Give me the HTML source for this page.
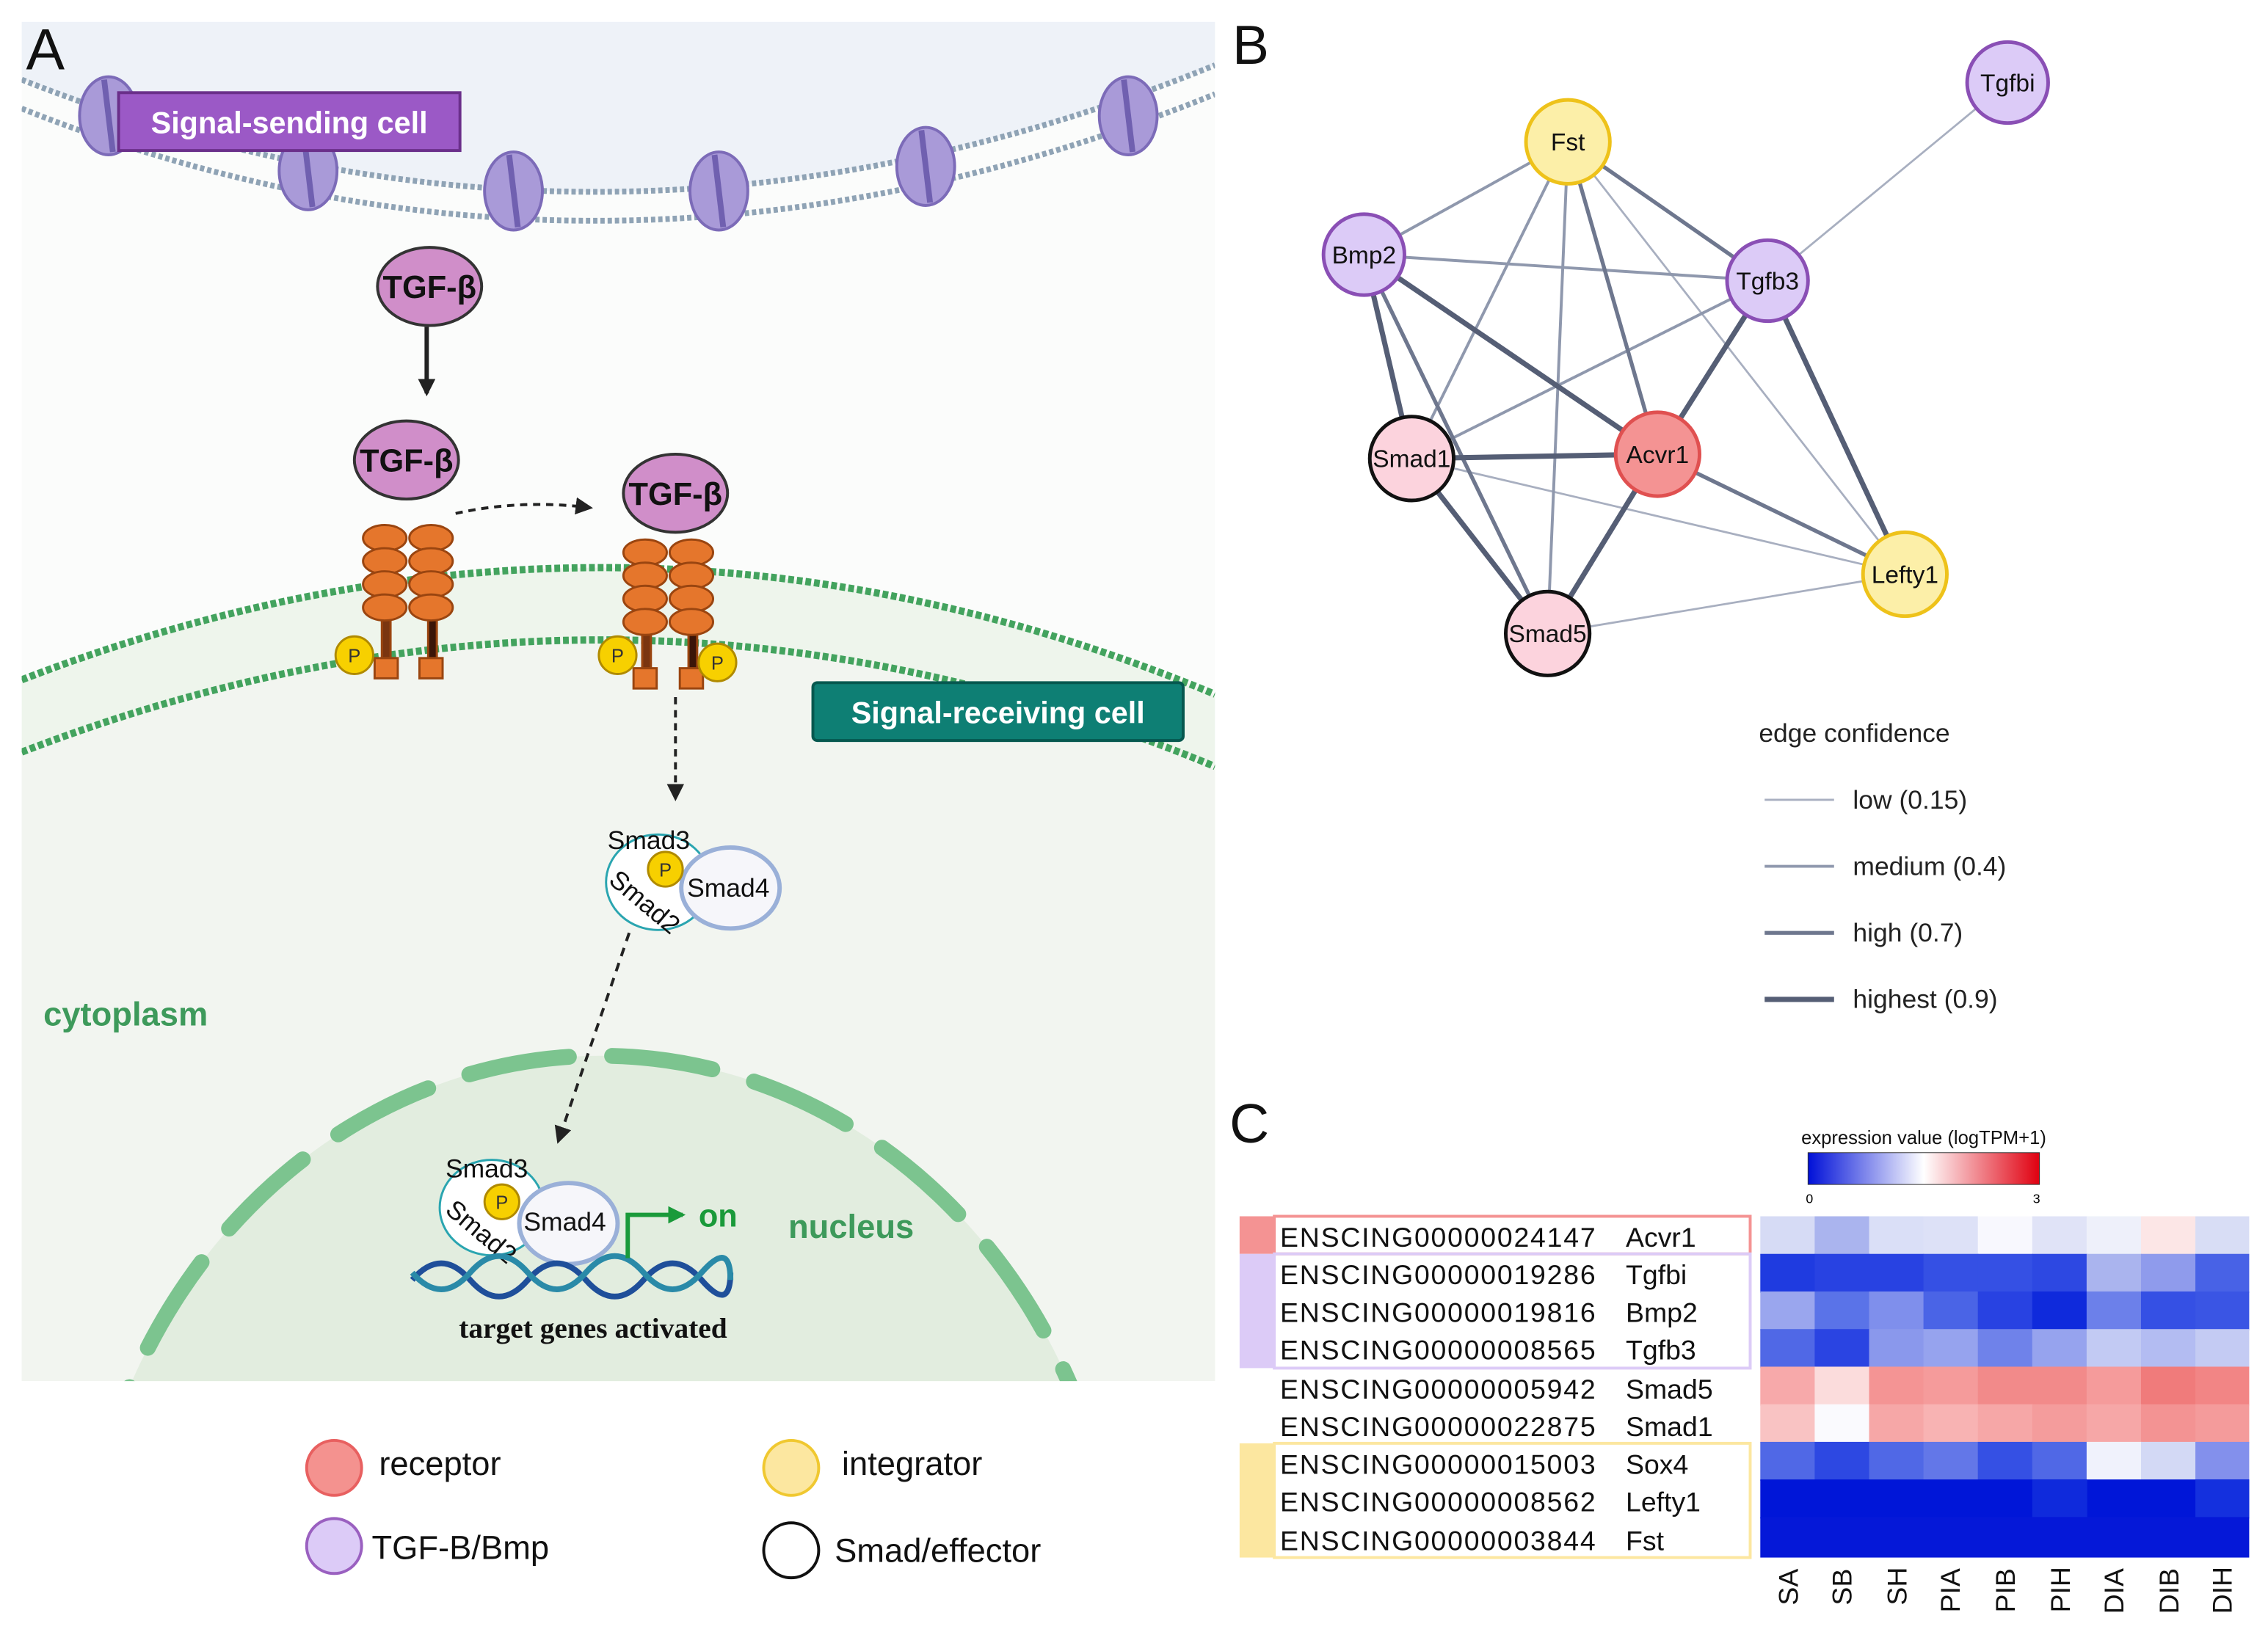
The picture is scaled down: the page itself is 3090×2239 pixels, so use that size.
<!DOCTYPE html>
<html><head><meta charset="utf-8"><style>html,body{margin:0;padding:0;background:#fff;width:3090px;height:2239px;overflow:hidden}svg{display:block}</style></head>
<body>
<svg width="3090" height="2239" viewBox="0 0 1568 1136" xmlns="http://www.w3.org/2000/svg" font-family="Liberation Sans, sans-serif">
<defs>
<linearGradient id="cb" x1="0" x2="1"><stop offset="0" stop-color="#0010d8"/><stop offset="0.5" stop-color="#ffffff"/><stop offset="1" stop-color="#e00010"/></linearGradient>
<clipPath id="pa"><rect x="15" y="15" width="825" height="940"/></clipPath>
<marker id="ah" markerUnits="userSpaceOnUse" markerWidth="14" markerHeight="14" refX="10" refY="6" orient="auto"><path d="M0,0 L12,6 L0,12 z" fill="#222"/></marker>
<marker id="ag" markerUnits="userSpaceOnUse" markerWidth="14" markerHeight="14" refX="10" refY="6" orient="auto"><path d="M0,0 L12,6 L0,12 z" fill="#1a9a3a"/></marker>
</defs>
<rect width="1568" height="1136" fill="#fff"/>
<!-- Panel A -->
<g clip-path="url(#pa)">
<rect x="15" y="15" width="825" height="940" fill="#fbfcfb"/>
<path d="M15,15 H840 V45 Q420,215 15,55 Z" fill="#eef2f8"/>
<path d="M15,470 Q430,310 840,480 V955 H15 Z" fill="#eef5ec"/>
<path d="M15,520 Q430,360 840,530 V955 H15 Z" fill="#f2f5f0"/>
<path d="M15,55 Q420,215 840,45" fill="none" stroke="#8fa3b5" stroke-width="4" stroke-dasharray="3 2"/>
<path d="M15,75 Q420,235 840,65" fill="none" stroke="#8fa3b5" stroke-width="4" stroke-dasharray="3 2"/>
<path d="M15,470 Q430,310 840,480" fill="none" stroke="#43a35e" stroke-width="5" stroke-dasharray="4 2"/>
<path d="M15,520 Q430,360 840,530" fill="none" stroke="#43a35e" stroke-width="5" stroke-dasharray="4 2"/>
<g fill="#a99ad8" stroke="#7c6bb8" stroke-width="2">
<ellipse cx="75" cy="80" rx="20" ry="27"/><ellipse cx="213" cy="118" rx="20" ry="27"/><ellipse cx="355" cy="132" rx="20" ry="27"/><ellipse cx="497" cy="132" rx="20" ry="27"/><ellipse cx="640" cy="115" rx="20" ry="27"/><ellipse cx="780" cy="80" rx="20" ry="27"/>
</g>
<g stroke="#7060b0" stroke-width="4">
<line x1="72" y1="55" x2="78" y2="105"/><line x1="210" y1="93" x2="216" y2="143"/><line x1="352" y1="107" x2="358" y2="157"/><line x1="494" y1="107" x2="500" y2="157"/><line x1="637" y1="90" x2="643" y2="140"/><line x1="777" y1="55" x2="783" y2="105"/>
</g>
<ellipse cx="415" cy="1130" rx="360" ry="400" fill="#e2eddf"/>
<ellipse cx="415" cy="1130" rx="360" ry="400" fill="none" stroke="#7cc48f" stroke-width="11" stroke-dasharray="70 30" stroke-linecap="round"/>
</g>
<rect x="82" y="64" width="236" height="40" fill="#9b59c6" stroke="#6a2f8a" stroke-width="2"/>
<text x="200" y="92" text-anchor="middle" font-size="21" font-weight="bold" fill="#fff">Signal-sending cell</text>
<rect x="562" y="472" width="256" height="40" rx="3" fill="#0e7f74" stroke="#06584f" stroke-width="2"/>
<text x="690" y="500" text-anchor="middle" font-size="21" font-weight="bold" fill="#fff">Signal-receiving cell</text>
<text x="18" y="48" font-size="40" fill="#111">A</text>
<g fill="#d08ec9" stroke="#333" stroke-width="2">
<ellipse cx="297" cy="198" rx="36" ry="27"/><ellipse cx="281" cy="318" rx="36" ry="27"/><ellipse cx="467" cy="341" rx="36" ry="27"/>
</g>
<g font-size="22" font-weight="bold" text-anchor="middle" fill="#111">
<text x="297" y="206">TGF-β</text><text x="281" y="326">TGF-β</text><text x="467" y="349">TGF-β</text>
</g>
<line x1="295" y1="226" x2="295" y2="272" stroke="#222" stroke-width="3" marker-end="url(#ah)"/>
<path d="M315,355 Q360,345 408,351" fill="none" stroke="#222" stroke-width="2" stroke-dasharray="5 4" marker-end="url(#ah)"/>
<!-- receptors -->
<g fill="#e5762c" stroke="#9a4510" stroke-width="1.5">
<rect x="264" y="420" width="6" height="40" fill="#7a3510"/><rect x="296" y="420" width="6" height="40" fill="#3a1508"/>
<rect x="444" y="430" width="6" height="35" fill="#7a3510"/><rect x="476" y="430" width="6" height="35" fill="#3a1508"/>
<ellipse cx="266" cy="372" rx="15" ry="9"/><ellipse cx="266" cy="388" rx="15" ry="9"/><ellipse cx="266" cy="404" rx="15" ry="9"/><ellipse cx="266" cy="420" rx="15" ry="9"/>
<ellipse cx="298" cy="372" rx="15" ry="9"/><ellipse cx="298" cy="388" rx="15" ry="9"/><ellipse cx="298" cy="404" rx="15" ry="9"/><ellipse cx="298" cy="420" rx="15" ry="9"/>
<ellipse cx="446" cy="382" rx="15" ry="9"/><ellipse cx="446" cy="398" rx="15" ry="9"/><ellipse cx="446" cy="414" rx="15" ry="9"/><ellipse cx="446" cy="430" rx="15" ry="9"/>
<ellipse cx="478" cy="382" rx="15" ry="9"/><ellipse cx="478" cy="398" rx="15" ry="9"/><ellipse cx="478" cy="414" rx="15" ry="9"/><ellipse cx="478" cy="430" rx="15" ry="9"/>
<rect x="259" y="455" width="16" height="14"/><rect x="290" y="455" width="16" height="14"/>
<rect x="438" y="462" width="16" height="14"/><rect x="470" y="462" width="16" height="14"/>
</g>
<g fill="#f7d000" stroke="#b08a00" stroke-width="1.5">
<circle cx="245" cy="453" r="13"/><circle cx="427" cy="453" r="13"/><circle cx="496" cy="458" r="13"/>
</g>
<g font-size="13" text-anchor="middle" fill="#333"><text x="245" y="458">P</text><text x="427" y="458">P</text><text x="496" y="463">P</text></g>
<line x1="467" y1="482" x2="467" y2="552" stroke="#222" stroke-width="2" stroke-dasharray="5 4" marker-end="url(#ah)"/>
<line x1="435" y1="645" x2="386" y2="789" stroke="#222" stroke-width="2" stroke-dasharray="6 5" marker-end="url(#ah)"/>
<!-- smad complexes -->
<g fill="#fff" stroke="#2aa5b0" stroke-width="1.5">
<ellipse cx="455" cy="610" rx="36" ry="33"/><ellipse cx="340" cy="835" rx="36" ry="33"/>
</g>
<g fill="#f6f6fa" stroke="#9ab0d8" stroke-width="3">
<ellipse cx="505" cy="614" rx="34" ry="28"/><ellipse cx="393" cy="846" rx="34" ry="28"/>
</g>
<g fill="#f7d000" stroke="#b08a00" stroke-width="1.5"><circle cx="460" cy="601" r="12"/><circle cx="347" cy="831" r="12"/></g>
<g font-size="13" text-anchor="middle" fill="#333"><text x="460" y="606">P</text><text x="347" y="836">P</text></g>
<g font-size="18" fill="#111">
<text x="420" y="587">Smad3</text><text x="475" y="620">Smad4</text>
<text x="308" y="814">Smad3</text><text x="362" y="851">Smad4</text>
<text x="420" y="610" transform="rotate(40 420 610)">Smad2</text>
<text x="307" y="838" transform="rotate(40 307 838)">Smad2</text>
</g>
<path d="M285,885 Q305,862 325,885 T365,885 T405,885 T445,885 T485,885 T505,880" fill="none" stroke="#1f4f9a" stroke-width="4"/>
<path d="M285,880 Q305,903 325,880 T365,880 T405,880 T445,880 T485,880 T505,885" fill="none" stroke="#2a8aa8" stroke-width="4"/>
<path d="M434,870 V840 H472" fill="none" stroke="#1a9a3a" stroke-width="3" marker-end="url(#ag)"/>
<text x="483" y="848" font-size="22" font-weight="bold" fill="#1a9a3a">on</text>
<text x="410" y="925" text-anchor="middle" font-family="Liberation Serif, serif" font-size="20" font-weight="bold" fill="#111">target genes activated</text>
<text x="30" y="709" font-size="23" font-weight="bold" fill="#3e9a5b">cytoplasm</text>
<text x="545" y="856" font-size="23" font-weight="bold" fill="#3e9a5b">nucleus</text>
<!-- legend A -->
<circle cx="231" cy="1015" r="19" fill="#f4928f" stroke="#e86060" stroke-width="2"/>
<circle cx="547" cy="1015" r="19" fill="#fce7a0" stroke="#f0c830" stroke-width="2"/>
<circle cx="231" cy="1069" r="19" fill="#dccbf7" stroke="#9a60c0" stroke-width="2"/>
<circle cx="547" cy="1072" r="19" fill="#fff" stroke="#111" stroke-width="2"/>
<g font-size="23" fill="#111"><text x="262" y="1020">receptor</text><text x="582" y="1020">integrator</text><text x="257" y="1078">TGF-B/Bmp</text><text x="577" y="1080">Smad/effector</text></g>
<!-- Panel B -->
<text x="852" y="44" font-size="38" fill="#111">B</text>
<g stroke-linecap="round">
<g stroke="#a8afc0" stroke-width="1.4">
<line x1="1388" y1="57" x2="1222" y2="194"/><line x1="1084" y1="98" x2="1317" y2="397"/><line x1="1070" y1="438" x2="1317" y2="397"/><line x1="976" y1="317" x2="1317" y2="397"/>
</g>
<g stroke="#8f98ad" stroke-width="2">
<line x1="1084" y1="98" x2="943" y2="176"/><line x1="1084" y1="98" x2="976" y2="317"/><line x1="1084" y1="98" x2="1070" y2="438"/><line x1="943" y1="176" x2="1222" y2="194"/><line x1="1222" y1="194" x2="976" y2="317"/>
</g>
<g stroke="#6e778e" stroke-width="2.7">
<line x1="1084" y1="98" x2="1146" y2="314"/><line x1="1084" y1="98" x2="1222" y2="194"/><line x1="943" y1="176" x2="1070" y2="438"/><line x1="1146" y1="314" x2="1317" y2="397"/>
</g>
<g stroke="#555e75" stroke-width="3.6">
<line x1="943" y1="176" x2="1146" y2="314"/><line x1="943" y1="176" x2="976" y2="317"/><line x1="1222" y1="194" x2="1146" y2="314"/><line x1="1222" y1="194" x2="1317" y2="397"/><line x1="976" y1="317" x2="1146" y2="314"/><line x1="976" y1="317" x2="1070" y2="438"/><line x1="1146" y1="314" x2="1070" y2="438"/>
</g>
</g>
<g stroke-width="2.5">
<circle cx="1388" cy="57" r="28" fill="#dccbf7" stroke="#8a4fb5"/>
<circle cx="1084" cy="98" r="29" fill="#fcefa8" stroke="#eec21a"/>
<circle cx="943" cy="176" r="28" fill="#dccbf7" stroke="#8a4fb5"/>
<circle cx="1222" cy="194" r="28" fill="#dccbf7" stroke="#8a4fb5"/>
<circle cx="976" cy="317" r="29" fill="#fcd3dd" stroke="#111"/>
<circle cx="1146" cy="314" r="29" fill="#f49393" stroke="#e05050"/>
<circle cx="1317" cy="397" r="29" fill="#fcefa8" stroke="#eec21a"/>
<circle cx="1070" cy="438" r="29" fill="#fcd3dd" stroke="#111"/>
</g>
<g font-size="17" text-anchor="middle" fill="#111">
<text x="1388" y="63">Tgfbi</text><text x="1084" y="104">Fst</text><text x="943" y="182">Bmp2</text><text x="1222" y="200">Tgfb3</text><text x="976" y="323">Smad1</text><text x="1146" y="320">Acvr1</text><text x="1317" y="403">Lefty1</text><text x="1070" y="444">Smad5</text>
</g>
<text x="1216" y="513" font-size="18" fill="#222">edge confidence</text>
<line x1="1220" y1="553" x2="1268" y2="553" stroke="#a8afc0" stroke-width="1.4"/>
<line x1="1220" y1="599" x2="1268" y2="599" stroke="#8f98ad" stroke-width="2"/>
<line x1="1220" y1="645" x2="1268" y2="645" stroke="#6e778e" stroke-width="2.7"/>
<line x1="1220" y1="691" x2="1268" y2="691" stroke="#555e75" stroke-width="3.6"/>
<g font-size="18" fill="#222"><text x="1281" y="559">low (0.15)</text><text x="1281" y="605">medium (0.4)</text><text x="1281" y="651">high (0.7)</text><text x="1281" y="697">highest (0.9)</text></g>
<!-- Panel C -->
<text x="850" y="790" font-size="38" fill="#111">C</text>
<text x="1330" y="791" font-size="13" text-anchor="middle" fill="#111">expression value (logTPM+1)</text>
<rect x="1250" y="797" width="160" height="22" fill="url(#cb)" stroke="#333" stroke-width="0.5"/>
<text x="1251" y="832" font-size="9" text-anchor="middle">0</text><text x="1408" y="832" font-size="9" text-anchor="middle">3</text>
<rect x="857" y="841" width="24" height="26" fill="#f49393"/>
<rect x="857" y="867" width="24" height="79" fill="#dccbf7"/>
<rect x="857" y="998" width="24" height="79" fill="#fce7a0"/>
<rect x="881" y="841" width="329" height="26" fill="none" stroke="#f49393" stroke-width="2"/>
<rect x="881" y="867" width="329" height="79" fill="none" stroke="#dccbf7" stroke-width="2"/>
<rect x="881" y="998" width="329" height="79" fill="none" stroke="#fce7a0" stroke-width="2"/>
<g font-size="19" fill="#111">
<text x="885" y="862" textLength="218">ENSCING00000024147</text><text x="1124" y="862">Acvr1</text>
<text x="885" y="888" textLength="218">ENSCING00000019286</text><text x="1124" y="888">Tgfbi</text>
<text x="885" y="914" textLength="218">ENSCING00000019816</text><text x="1124" y="914">Bmp2</text>
<text x="885" y="940" textLength="218">ENSCING00000008565</text><text x="1124" y="940">Tgfb3</text>
<text x="885" y="967" textLength="218">ENSCING00000005942</text><text x="1124" y="967">Smad5</text>
<text x="885" y="993" textLength="218">ENSCING00000022875</text><text x="1124" y="993">Smad1</text>
<text x="885" y="1019" textLength="218">ENSCING00000015003</text><text x="1124" y="1019">Sox4</text>
<text x="885" y="1045" textLength="218">ENSCING00000008562</text><text x="1124" y="1045">Lefty1</text>
<text x="885" y="1072" textLength="218">ENSCING00000003844</text><text x="1124" y="1072">Fst</text>
</g>
<g>
<rect x="1217" y="841" width="38" height="27" fill="#d6dbf5"/><rect x="1254.6" y="841" width="38" height="27" fill="#aab4ee"/><rect x="1292.2" y="841" width="38" height="27" fill="#dadff7"/><rect x="1329.8" y="841" width="38" height="27" fill="#dde1f7"/><rect x="1367.4" y="841" width="38" height="27" fill="#f8f8fe"/><rect x="1405" y="841" width="38" height="27" fill="#e0e3f7"/><rect x="1442.6" y="841" width="38" height="27" fill="#eef0fa"/><rect x="1480.2" y="841" width="38" height="27" fill="#fce6e6"/><rect x="1517.8" y="841" width="37.2" height="27" fill="#d8ddf5"/>
<rect x="1217" y="867" width="38" height="27" fill="#1f3be0"/><rect x="1254.6" y="867" width="38" height="27" fill="#2842e2"/><rect x="1292.2" y="867" width="38" height="27" fill="#2842e2"/><rect x="1329.8" y="867" width="38" height="27" fill="#3550e4"/><rect x="1367.4" y="867" width="38" height="27" fill="#3550e4"/><rect x="1405" y="867" width="38" height="27" fill="#2d48e2"/><rect x="1442.6" y="867" width="38" height="27" fill="#aab4ee"/><rect x="1480.2" y="867" width="38" height="27" fill="#8f9bec"/><rect x="1517.8" y="867" width="37.2" height="27" fill="#4862e6"/>
<rect x="1217" y="893" width="38" height="27" fill="#9aa6ee"/><rect x="1254.6" y="893" width="38" height="27" fill="#5a73e8"/><rect x="1292.2" y="893" width="38" height="27" fill="#7f8fec"/><rect x="1329.8" y="893" width="38" height="27" fill="#4a64e6"/><rect x="1367.4" y="893" width="38" height="27" fill="#2842e2"/><rect x="1405" y="893" width="38" height="27" fill="#0f2adc"/><rect x="1442.6" y="893" width="38" height="27" fill="#6c80ea"/><rect x="1480.2" y="893" width="38" height="27" fill="#3550e4"/><rect x="1517.8" y="893" width="37.2" height="27" fill="#3a55e4"/>
<rect x="1217" y="919" width="38" height="27" fill="#5068e6"/><rect x="1254.6" y="919" width="38" height="27" fill="#2a44e2"/><rect x="1292.2" y="919" width="38" height="27" fill="#8a98ec"/><rect x="1329.8" y="919" width="38" height="27" fill="#96a3ee"/><rect x="1367.4" y="919" width="38" height="27" fill="#6f82ea"/><rect x="1405" y="919" width="38" height="27" fill="#96a3ee"/><rect x="1442.6" y="919" width="38" height="27" fill="#c2caf3"/><rect x="1480.2" y="919" width="38" height="27" fill="#b3bcf2"/><rect x="1517.8" y="919" width="37.2" height="27" fill="#c4cbf3"/>
<rect x="1217" y="945" width="38" height="27" fill="#f7a9aa"/><rect x="1254.6" y="945" width="38" height="27" fill="#fbdcdc"/><rect x="1292.2" y="945" width="38" height="27" fill="#f49494"/><rect x="1329.8" y="945" width="38" height="27" fill="#f59b9b"/><rect x="1367.4" y="945" width="38" height="27" fill="#f28a8a"/><rect x="1405" y="945" width="38" height="27" fill="#f28a8a"/><rect x="1442.6" y="945" width="38" height="27" fill="#f59b9b"/><rect x="1480.2" y="945" width="38" height="27" fill="#f07b7b"/><rect x="1517.8" y="945" width="37.2" height="27" fill="#f28585"/>
<rect x="1217" y="971" width="38" height="27" fill="#f9c3c3"/><rect x="1254.6" y="971" width="38" height="27" fill="#fafafe"/><rect x="1292.2" y="971" width="38" height="27" fill="#f6a7a7"/><rect x="1329.8" y="971" width="38" height="27" fill="#f8b3b3"/><rect x="1367.4" y="971" width="38" height="27" fill="#f6a7a7"/><rect x="1405" y="971" width="38" height="27" fill="#f49c9c"/><rect x="1442.6" y="971" width="38" height="27" fill="#f6a7a7"/><rect x="1480.2" y="971" width="38" height="27" fill="#f39393"/><rect x="1517.8" y="971" width="37.2" height="27" fill="#f49b9b"/>
<rect x="1217" y="997" width="38" height="27" fill="#5068e6"/><rect x="1254.6" y="997" width="38" height="27" fill="#2d48e2"/><rect x="1292.2" y="997" width="38" height="27" fill="#5068e6"/><rect x="1329.8" y="997" width="38" height="27" fill="#6377e8"/><rect x="1367.4" y="997" width="38" height="27" fill="#3550e4"/><rect x="1405" y="997" width="38" height="27" fill="#5068e6"/><rect x="1442.6" y="997" width="38" height="27" fill="#f0f2fc"/><rect x="1480.2" y="997" width="38" height="27" fill="#d3d9f5"/><rect x="1517.8" y="997" width="37.2" height="27" fill="#8390ec"/>
<rect x="1217" y="1023" width="338" height="27" fill="#0016d8"/><rect x="1405" y="1023" width="38" height="27" fill="#0f2adc"/><rect x="1517.8" y="1023" width="37.2" height="27" fill="#1430de"/>
<rect x="1217" y="1049" width="338" height="28" fill="#0518d8"/>
</g>
<g font-size="19" fill="#111">
<text transform="translate(1243,1110) rotate(-90)">SA</text>
<text transform="translate(1280,1110) rotate(-90)">SB</text>
<text transform="translate(1318,1110) rotate(-90)">SH</text>
<text transform="translate(1355,1115) rotate(-90)">PIA</text>
<text transform="translate(1393,1115) rotate(-90)">PIB</text>
<text transform="translate(1431,1115) rotate(-90)">PIH</text>
<text transform="translate(1468,1116) rotate(-90)">DIA</text>
<text transform="translate(1506,1116) rotate(-90)">DIB</text>
<text transform="translate(1543,1116) rotate(-90)">DIH</text>
</g>
</svg>
</body></html>
